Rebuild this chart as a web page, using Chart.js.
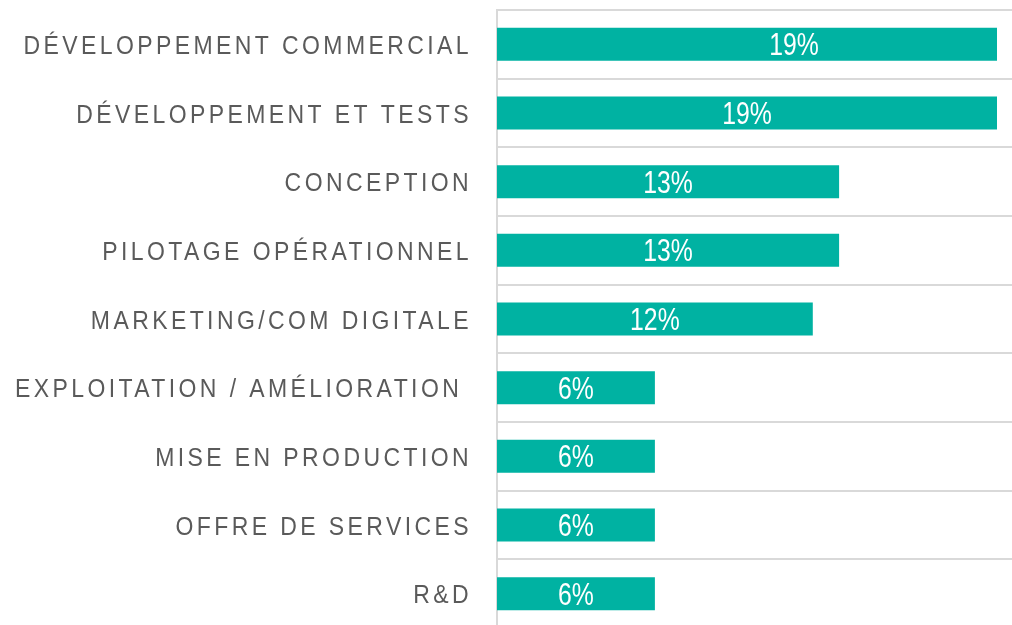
<!DOCTYPE html>
<html lang="fr">
<head>
<meta charset="utf-8">
<title>Répartition des activités</title>
<script src="https://cdn.jsdelivr.net/npm/chart.js@4/dist/chart.umd.min.js"></script>
<style>
  html, body { margin: 0; padding: 0; background: #fff; overflow: hidden; }
  #wrap { width: 1012px; height: 628px; position: relative; }
</style>
</head>
<body>
<div id="wrap"><canvas id="bars"></canvas></div>
<script>
// Categories (top to bottom) and their shares in percent
const categories = [
  'DÉVELOPPEMENT COMMERCIAL',
  'DÉVELOPPEMENT ET TESTS',
  'CONCEPTION',
  'PILOTAGE OPÉRATIONNEL',
  'MARKETING/COM DIGITALE',
  'EXPLOITATION / AMÉLIORATION ',
  'MISE EN PRODUCTION',
  'OFFRE DE SERVICES',
  'R&D'
];
const shares = [19, 19, 13, 13, 12, 6, 6, 6, 6];
const valueLabels = ['19%', '19%', '13%', '13%', '12%', '6%', '6%', '6%', '6%'];

const TEAL = '#00B2A2';
const GREY_TEXT = '#5A5A5A';
const GRID = '#D9D9D9';

// condensed look: draw text squeezed horizontally
function narrowText(ctx, txt, x, y, sx) {
  ctx.save();
  ctx.translate(x, y);
  ctx.scale(sx, 1);
  ctx.fillText(txt, 0, 0);
  ctx.restore();
}

// draws category names (letter-spaced) and the white value labels inside the bars
const labelPlugin = {
  id: 'labels',
  afterDraw(chart) {
    const ctx = chart.ctx;
    const y = chart.scales.y;
    const meta = chart.getDatasetMeta(0);

    ctx.save();
    ctx.font = '25px "Liberation Sans", Arial, sans-serif';
    ctx.fillStyle = GREY_TEXT;
    ctx.textAlign = 'right';
    ctx.textBaseline = 'alphabetic';
    ctx.letterSpacing = '3.7px';
    categories.forEach((c, i) => {
      narrowText(ctx, c, y.left - 25, y.getPixelForValue(i) + 9.5, 0.92);
    });

    ctx.letterSpacing = '0px';
    ctx.font = '31px "Liberation Sans", Arial, sans-serif';
    ctx.fillStyle = '#fff';
    ctx.textAlign = 'center';
    meta.data.forEach((bar, i) => {
      const cx = (bar.base + bar.x) / 2 + (i === 0 ? 47 : 0);
      narrowText(ctx, valueLabels[i], cx, bar.y + 11, 0.8);
    });
    ctx.restore();
  }
};

new Chart(document.getElementById('bars'), {
  type: 'bar',
  data: {
    labels: categories,
    datasets: [{
      data: shares,
      backgroundColor: TEAL,
      borderWidth: 0,
      barPercentage: 0.96,
      categoryPercentage: 0.5
    }]
  },
  options: {
    indexAxis: 'y',
    responsive: true,
    maintainAspectRatio: false,
    animation: false,
    layout: { padding: { left: 497, top: 10, right: 0, bottom: 0 } },
    plugins: { legend: { display: false }, tooltip: { enabled: false } },
    scales: {
      x: {
        min: 0,
        max: 19.57,
        display: false
      },
      y: {
        offset: true,
        ticks: { display: false },
        grid: { color: GRID, lineWidth: 2, drawTicks: false },
        border: { color: GRID, width: 2 }
      }
    }
  },
  plugins: [labelPlugin]
});
</script>
</body>
</html>
